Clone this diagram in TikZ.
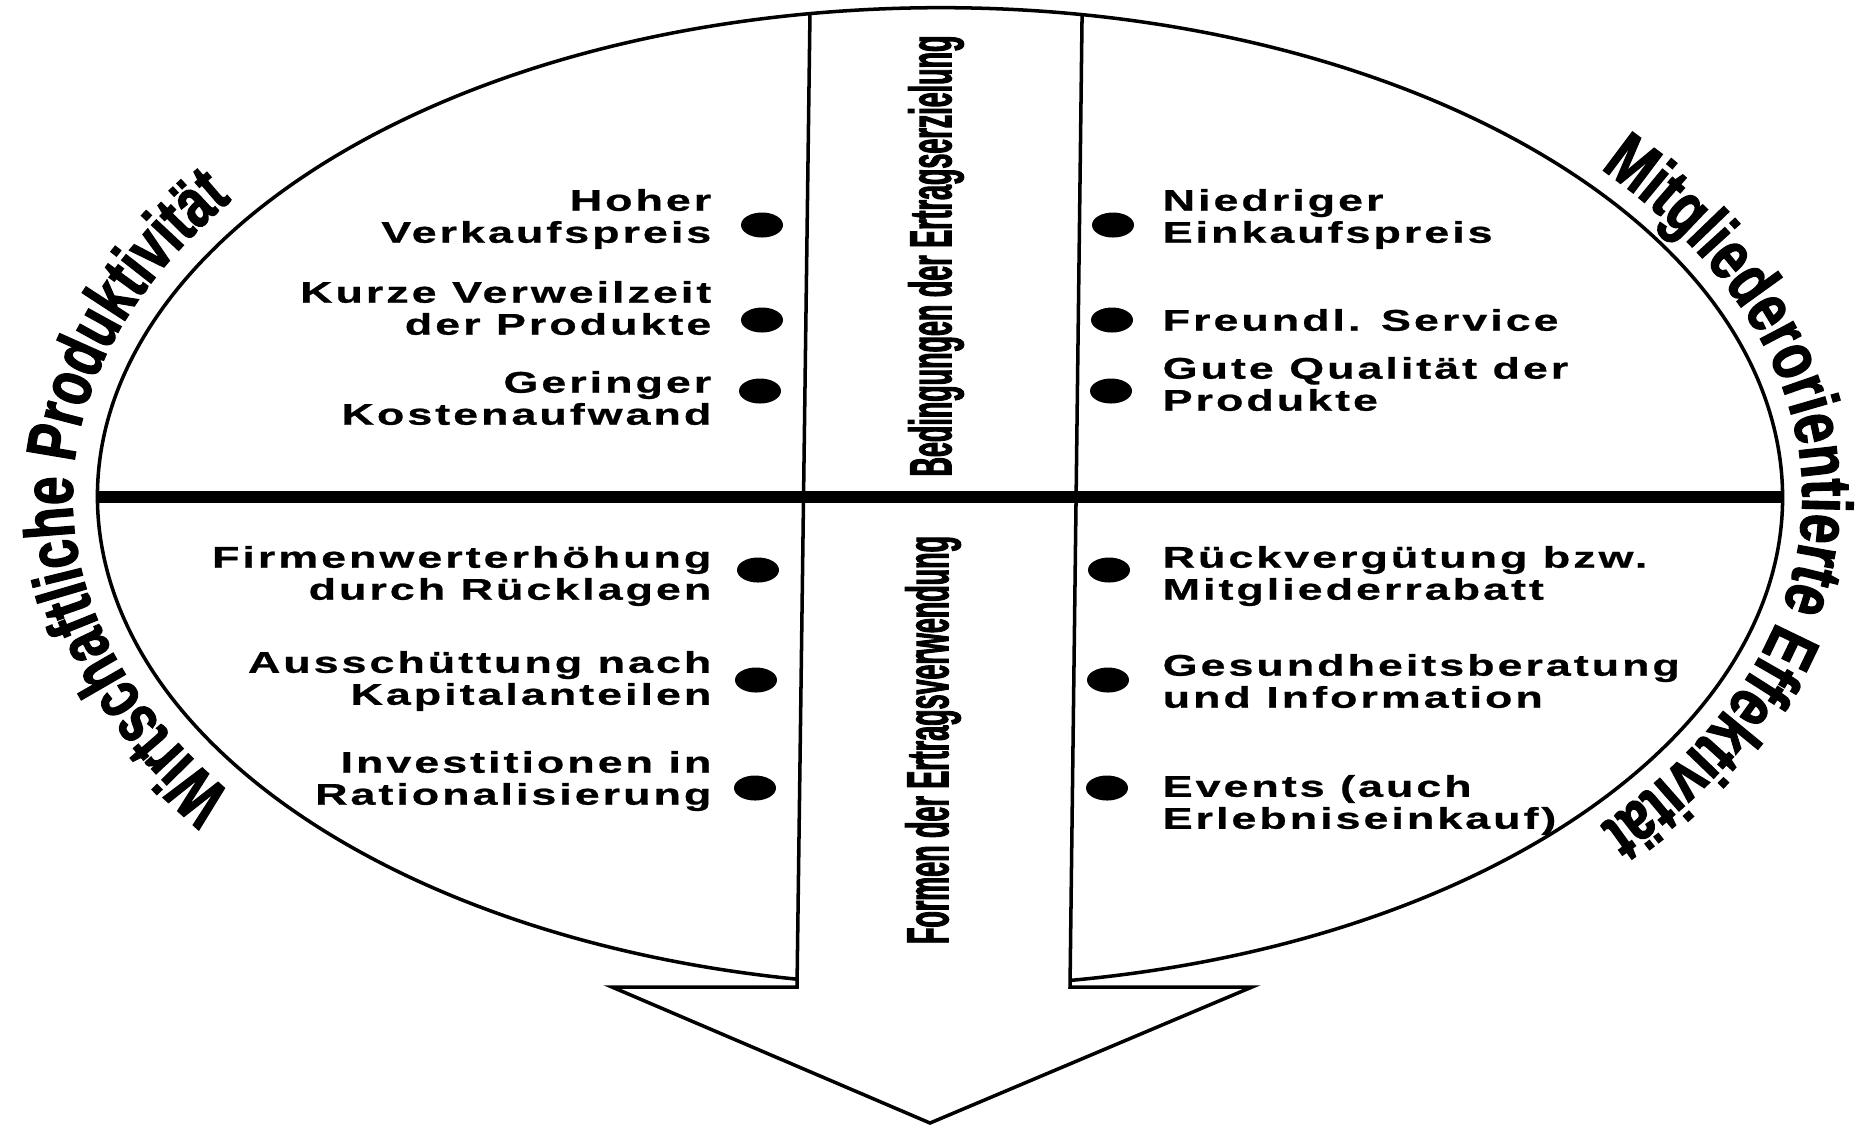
\documentclass[tikz,border=0pt]{standalone}
\usepackage{fontspec}
\setmainfont{Liberation Sans}
\newfontfamily\listfont[FakeStretch=1.5,LetterSpace=10,FakeBold=0.8]{Liberation Sans}
\newfontfamily\midfont[FakeStretch=0.45,FakeBold=1.5]{Liberation Sans}
\newfontfamily\leftarcfont[FakeStretch=0.73,FakeBold=1.8]{Liberation Sans}
\newfontfamily\rightarcfont[FakeStretch=0.76,FakeBold=1.8]{Liberation Sans}
\usetikzlibrary{shapes.geometric, decorations.text, calc, positioning}
\tikzstyle{outline} = [draw, line width=1pt, line join=miter]
\tikzstyle{divider} = [draw, line width=3.5pt]
\tikzstyle{lefttext} = [anchor=east, align=right, inner sep=0pt, font=\listfont\bfseries\fontsize{8.5}{9.1}\selectfont]
\tikzstyle{righttext} = [anchor=west, align=left, inner sep=0pt, font=\listfont\bfseries\fontsize{8.5}{9.1}\selectfont]
\tikzstyle{dot} = [ellipse, fill, inner sep=0pt, minimum width=0.42cm, minimum height=0.25cm]
\tikzstyle{midtext} = [rotate=90, inner sep=0pt, font=\midfont\bfseries\fontsize{17}{20}\selectfont]

\begin{document}
\begin{tikzpicture}[x=0.01cm, y=0.01cm]
    \useasboundingbox (0,0) rectangle (1870,-1126);
    \coordinate (c) at (940,-497);
    \coordinate (lefttop) at ($(c)+(98.88:8.42cm and 4.89cm)$);
    \coordinate (righttop) at ($(c)+(80.29:8.42cm and 4.89cm)$);
    \coordinate (leftend) at ($(c)+(180:8.42cm and 4.89cm)$);
    \coordinate (rightend) at ($(c)+(0:8.42cm and 4.89cm)$);
    \coordinate (shaftleft) at (797,-987);
    \coordinate (shaftright) at (1070,-987);
    \coordinate (headleft) at (612,-987);
    \coordinate (headright) at (1252,-987);
    \coordinate (tip) at (930,-1123);

    \draw [outline] ($(c)+(278.9:8.42cm and 4.89cm)$) arc[start angle=278.9, end angle=620.2, x radius=8.42cm, y radius=4.89cm];
    \draw [outline] (lefttop) -- (shaftleft) -- (headleft) -- (tip) -- (headright) -- (shaftright) -- (righttop);
    \draw [divider] (leftend) -- (rightend);

    \path [decorate, decoration={text along path, text align=center, text={|\leftarcfont\bfseries\fontsize{20}{24}\selectfont|Wirtschaftliche Produktivität}}]
        ($(c)+(217:8.67cm and 5.14cm)$) arc[start angle=217, end angle=143, x radius=8.67cm, y radius=5.14cm];
    \path [decorate, decoration={text along path, text align=center, text={|\rightarcfont\bfseries\fontsize{20}{24}\selectfont|Mitgliederorientierte Effektivität}}]
        ($(c)+(44:8.62cm and 5.1cm)$) arc[start angle=44, end angle=-44, x radius=8.62cm, y radius=5.1cm];

    \node [midtext] (bedingungen) at (936,-256) {Bedingungen der Ertragserzielung};
    \node [midtext] (formen) at (933,-740) {Formen der Ertragsverwendung};

    \node [lefttext] (hoher) at (712,-219) {Hoher\\Verkaufspreis};
    \node [lefttext] (verweil) at (712,-308) {Kurze Verweilzeit\\der Produkte};
    \node [lefttext] (kosten) at (712,-398) {Geringer\\Kostenaufwand};
    \node [lefttext] (firmen) at (712,-576) {Firmenwerterhöhung\\durch Rücklagen};
    \node [lefttext] (aussch) at (712,-681) {Ausschüttung nach\\Kapitalanteilen};
    \node [lefttext] (invest) at (712,-781) {Investitionen in\\Rationalisierung};

    \node [righttext] (niedrig) at (1162,-219) {Niedriger\\Einkaufspreis};
    \node [righttext] (service) at (1162,-320) {Freundl. Service};
    \node [righttext] (qualitaet) at (1162,-384) {Gute Qualität der\\Produkte};
    \node [righttext] (rueckv) at (1162,-576) {Rückvergütung bzw.\\Mitgliederrabatt};
    \node [righttext] (gesund) at (1162,-681) {Gesundheitsberatung\\und Information};
    \node [righttext] (events) at (1162,-805) {Events (auch\\Erlebniseinkauf)};

    \node [dot] (d1) at (762,-225) {};
    \node [dot] (d2) at (762,-320) {};
    \node [dot] (d3) at (760,-391) {};
    \node [dot] (d4) at (758,-570) {};
    \node [dot] (d5) at (756,-680) {};
    \node [dot] (d6) at (755,-788) {};
    \node [dot] (d7) at (1113,-225) {};
    \node [dot] (d8) at (1112,-320) {};
    \node [dot] (d9) at (1111,-391) {};
    \node [dot] (d10) at (1109,-570) {};
    \node [dot] (d11) at (1108,-680) {};
    \node [dot] (d12) at (1107,-788) {};
\end{tikzpicture}
\end{document}
